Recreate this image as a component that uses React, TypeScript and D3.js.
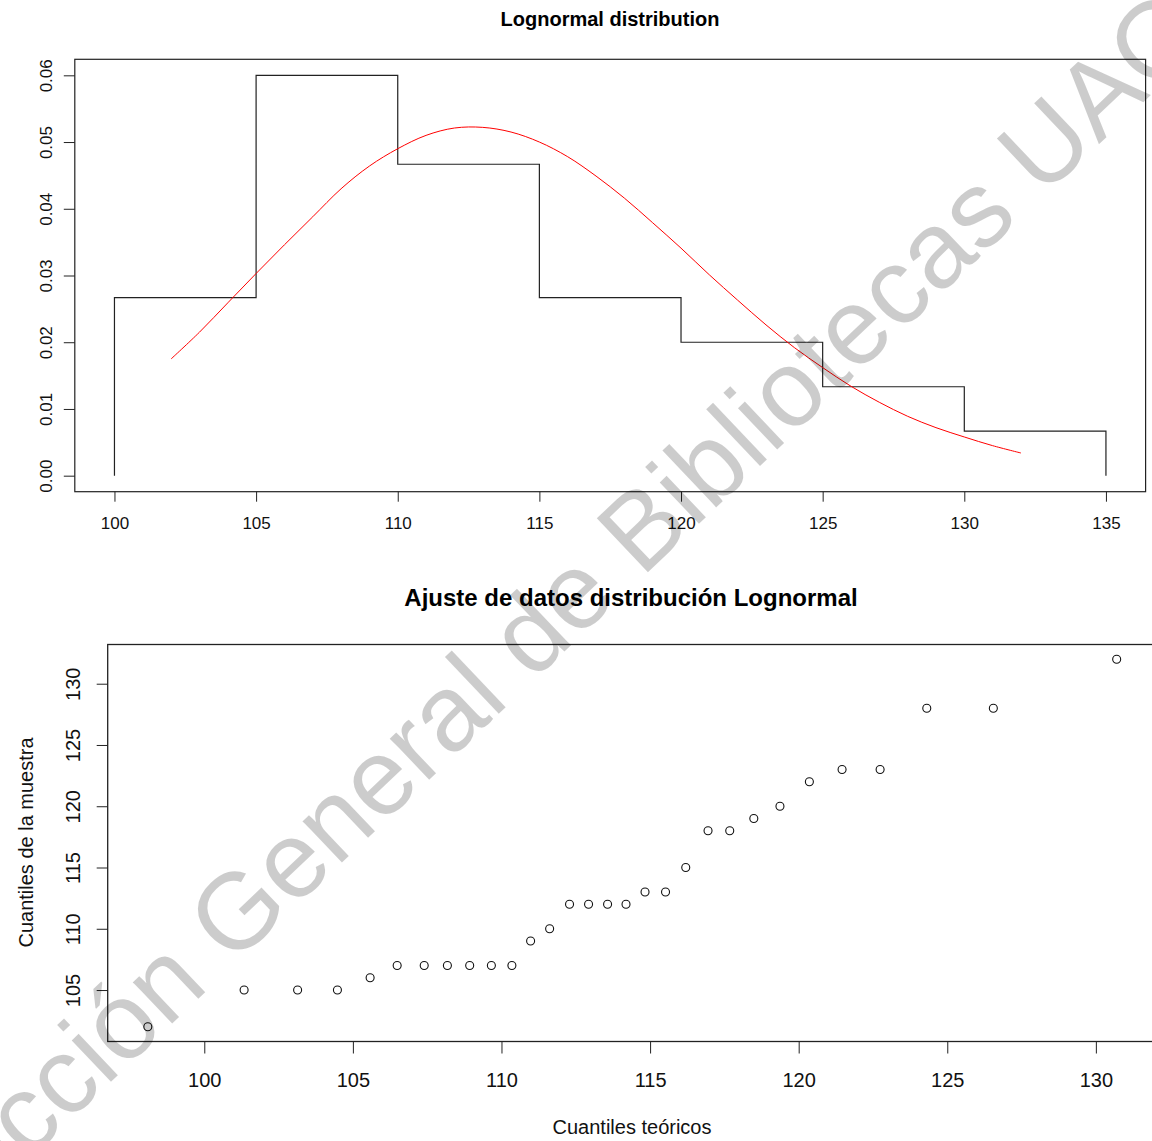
import React from 'react';
import { useRef, useEffect } from 'react';
import * as d3 from 'd3';

// histogram (density) of the sample
const histBreaks = [100, 105, 110, 115, 120, 125, 130, 135];
const histDensity = [0.02667, 0.06, 0.04667, 0.02667, 0.02, 0.01333, 0.00667];

// fitted lognormal density
const fitX = [102, 103, 104, 105, 106, 107, 108, 109, 110, 111, 112, 113, 114, 115, 116, 117,
  118, 119, 120, 121, 122, 123, 124, 125, 126, 127, 128, 129, 130, 131, 132];
const fitDensity = [0.0175, 0.0215, 0.0259, 0.0303, 0.0346, 0.0388, 0.043, 0.0464, 0.049, 0.051,
  0.0521, 0.0522, 0.0515, 0.05, 0.0478, 0.0449, 0.0416, 0.0379, 0.0341, 0.0301, 0.0263, 0.0226,
  0.0192, 0.0162, 0.0134, 0.011, 0.0089, 0.0072, 0.0058, 0.0045, 0.0034];

// Q-Q plot
const theoQuantiles = [98.1, 101.34, 103.14, 104.48, 105.58, 106.49, 107.4, 108.18, 108.93, 109.66,
  110.35, 110.98, 111.62, 112.29, 112.93, 113.57, 114.19, 114.83, 115.52, 116.2, 116.95, 117.68,
  118.49, 119.37, 120.36, 121.46, 122.74, 124.31, 126.55, 130.7];
const sampleQuantiles = [102, 105, 105, 105, 106, 107, 107, 107, 107, 107, 107, 109, 110, 112, 112,
  112, 112, 113, 113, 115, 118, 118, 119, 120, 122, 123, 123, 128, 128, 132];

const topXTicks = [100, 105, 110, 115, 120, 125, 130, 135];
const topYTicks = [0, 0.01, 0.02, 0.03, 0.04, 0.05, 0.06];
const botXTicks = [100, 105, 110, 115, 120, 125, 130];
const botYTicks = [105, 110, 115, 120, 125, 130];

const FONT = '"Liberation Sans", Arial, Helvetica, sans-serif';

export default function App() {
  const svgRef = useRef(null);

  useEffect(() => {
    const W = 1152;
    const H = 1141;
    const svg = d3.select(svgRef.current);
    svg.selectAll('*').remove();
    svg.attr('width', W).attr('height', H).style('font-family', FONT);

    svg.append('rect').attr('width', W).attr('height', H).attr('fill', '#fff');

    // ---------- top: histogram + lognormal fit ----------
    const xTop = d3.scaleLinear().domain([98.6, 136.4]).range([74.8, 1145.6]);
    const yTop = d3.scaleLinear().domain([-0.0024, 0.0624]).range([491.7, 59.3]);

    const gTop = svg.append('g');

    const stepPts: [number, number][] = [[histBreaks[0], 0]];
    histDensity.forEach((d, i) => {
      stepPts.push([histBreaks[i], d], [histBreaks[i + 1], d]);
    });
    stepPts.push([histBreaks[histBreaks.length - 1], 0]);

    const line: any = d3.line().x((d: any) => xTop(d[0])).y((d: any) => yTop(d[1]));
    gTop.append('path')
      .attr('d', line(stepPts))
      .attr('fill', 'none')
      .attr('stroke', '#222')
      .attr('stroke-width', 1.2);

    const fitLine: any = d3.line()
      .x((d: any) => xTop(d[0]))
      .y((d: any) => yTop(d[1]))
      .curve(d3.curveCatmullRom);
    gTop.append('path')
      .attr('d', fitLine(fitX.map((x, i) => [x, fitDensity[i]])))
      .attr('fill', 'none')
      .attr('stroke', '#ff0000')
      .attr('stroke-width', 1);

    // box
    gTop.append('rect')
      .attr('x', xTop.range()[0])
      .attr('y', yTop.range()[1])
      .attr('width', xTop.range()[1] - xTop.range()[0])
      .attr('height', yTop.range()[0] - yTop.range()[1])
      .attr('fill', 'none')
      .attr('stroke', '#222')
      .attr('stroke-width', 1.2);

    const axTopX = gTop.append('g')
      .attr('transform', `translate(0,${yTop.range()[0]})`)
      .call(d3.axisBottom(xTop).tickValues(topXTicks).tickSize(10).tickFormat(d3.format('d')));
    axTopX.select('.domain').remove();
    axTopX.selectAll('line').attr('stroke', '#222');
    axTopX.selectAll('text')
      .attr('y', 37.6).attr('dy', 0)
      .style('font-size', '17px').attr('fill', '#111');

    const axTopY = gTop.append('g')
      .attr('transform', `translate(${xTop.range()[0]},0)`)
      .call(d3.axisLeft(yTop).tickValues(topYTicks).tickSize(11).tickFormat(d3.format('.2f')));
    axTopY.select('.domain').remove();
    axTopY.selectAll('line').attr('stroke', '#222');
    axTopY.selectAll('text')
      .attr('x', 0).attr('dy', 0)
      .attr('transform', 'translate(-23,0) rotate(-90)')
      .attr('text-anchor', 'middle')
      .style('font-size', '17px').attr('fill', '#111');

    gTop.append('text')
      .attr('x', 610).attr('y', 26)
      .attr('text-anchor', 'middle')
      .style('font-size', '20px').style('font-weight', 'bold')
      .text('Lognormal distribution');

    // ---------- bottom: Q-Q plot ----------
    const xBot = d3.scaleLinear().domain([96.75, 132.05]).range([107.7, 1156.8]);
    const yBot = d3.scaleLinear().domain([100.8, 133.2]).range([1041.5, 644.5]);

    const gBot = svg.append('g');

    gBot.selectAll('circle')
      .data(theoQuantiles)
      .join('circle')
      .attr('cx', (d) => xBot(d))
      .attr('cy', (d, i) => yBot(sampleQuantiles[i]))
      .attr('r', 4)
      .attr('fill', 'none')
      .attr('stroke', '#111')
      .attr('stroke-width', 1.1);

    gBot.append('rect')
      .attr('x', xBot.range()[0])
      .attr('y', yBot.range()[1])
      .attr('width', xBot.range()[1] - xBot.range()[0])
      .attr('height', yBot.range()[0] - yBot.range()[1])
      .attr('fill', 'none')
      .attr('stroke', '#222')
      .attr('stroke-width', 1.3);

    const axBotX = gBot.append('g')
      .attr('transform', `translate(0,${yBot.range()[0]})`)
      .call(d3.axisBottom(xBot).tickValues(botXTicks).tickSize(12).tickFormat(d3.format('d')));
    axBotX.select('.domain').remove();
    axBotX.selectAll('line').attr('stroke', '#222');
    axBotX.selectAll('text')
      .attr('y', 45.5).attr('dy', 0)
      .style('font-size', '20px').attr('fill', '#111');

    const axBotY = gBot.append('g')
      .attr('transform', `translate(${xBot.range()[0]},0)`)
      .call(d3.axisLeft(yBot).tickValues(botYTicks).tickSize(11).tickFormat(d3.format('d')));
    axBotY.select('.domain').remove();
    axBotY.selectAll('line').attr('stroke', '#222');
    axBotY.selectAll('text')
      .attr('x', 0).attr('dy', 0)
      .attr('transform', 'translate(-27.7,0) rotate(-90)')
      .attr('text-anchor', 'middle')
      .style('font-size', '20px').attr('fill', '#111');

    gBot.append('text')
      .attr('x', 631).attr('y', 606)
      .attr('text-anchor', 'middle')
      .style('font-size', '24px').style('font-weight', 'bold')
      .text('Ajuste de datos distribución Lognormal');

    gBot.append('text')
      .attr('x', 632).attr('y', 1134)
      .attr('text-anchor', 'middle')
      .style('font-size', '20px').attr('fill', '#111')
      .text('Cuantiles teóricos');

    gBot.append('text')
      .attr('transform', 'translate(33,842.5) rotate(-90)')
      .attr('text-anchor', 'middle')
      .style('font-size', '20px').attr('fill', '#111')
      .text('Cuantiles de la muestra');

    // watermark (runs off the page edges in the source image too)
    svg.append('text')
      .attr('transform', 'translate(522,640) rotate(-43.5)')
      .attr('text-anchor', 'middle')
      .attr('dominant-baseline', 'central')
      .style('font-size', '108px')
      .attr('fill', '#000')
      .attr('fill-opacity', 0.2)
      .text('Dirección General de Bibliotecas UAQ');
  }, []);

  return (
    <div style={{ position: 'absolute', left: 0, top: 0 }}>
      <svg ref={svgRef} style={{ display: 'block' }}></svg>
    </div>
  );
}
